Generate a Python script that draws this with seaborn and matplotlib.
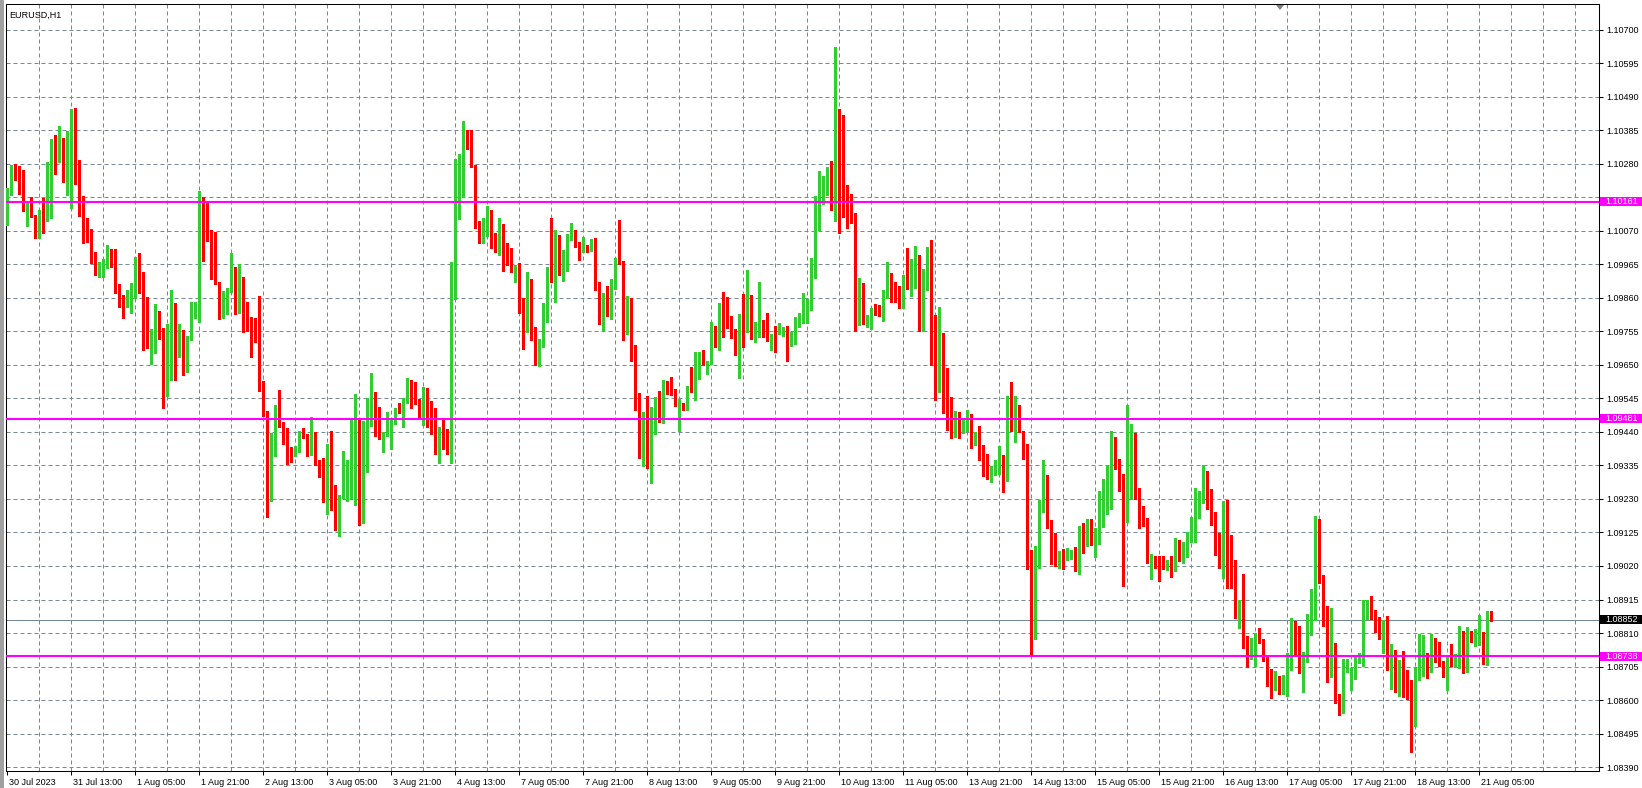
import numpy as np
import pandas as pd
import matplotlib
matplotlib.use("Agg")
import matplotlib.pyplot as plt
import matplotlib.transforms as mtransforms
from matplotlib.patches import Rectangle, Polygon
import seaborn as sns

symbol_title = "EURUSD,H1"

# hourly OHLC, 30 Jul 21:00 .. 21 Aug 08:00
opens = [
    1.10117, 1.10194, 1.10265, 1.10235, 1.10216, 1.10135, 1.10150, 1.10119, 1.10050, 1.10132,
    1.10100, 1.10189, 1.10338, 1.10318, 1.10360, 1.10263, 1.10274, 1.10372, 1.10248, 1.10180,
    1.10066, 1.10044, 1.09981, 1.09945, 1.09940, 1.09968, 1.10007, 1.09963, 1.09880, 1.09856,
    1.09845, 1.09848, 1.09895, 1.09982, 1.09941, 1.09791, 1.09742, 1.09744, 1.09816, 1.09750,
    1.09556, 1.09723, 1.09778, 1.09697, 1.09716, 1.09628, 1.09731, 1.09819, 1.09806, 1.10176,
    1.10085, 1.10072, 1.09957, 1.09910, 1.09835, 1.09863, 1.09889, 1.09938, 1.09892, 1.09897,
    1.09838, 1.09801, 1.09785, 1.09782, 1.09592, 1.09496, 1.09266, 1.09375, 1.09498, 1.09456,
    1.09425, 1.09390, 1.09369, 1.09377, 1.09441, 1.09431, 1.09391, 1.09434, 1.09347, 1.09343,
    1.09227, 1.09390, 1.09213, 1.09184, 1.09240, 1.09310, 1.09335, 1.09339, 1.09374, 1.09175,
    1.09313, 1.09460, 1.09545, 1.09463, 1.09426, 1.09430, 1.09412, 1.09477, 1.09513, 1.09500,
    1.09542, 1.09560, 1.09550, 1.09534, 1.09493, 1.09514, 1.09471, 1.09468, 1.09391, 1.09440,
    1.09429, 1.09370, 1.09887, 1.10111, 1.10224, 1.10339, 1.10334, 1.10276, 1.10085, 1.10068,
    1.10093, 1.10107, 1.10048, 1.10015, 1.10088, 1.10002, 1.09997, 1.09946, 1.09960, 1.09822,
    1.09791, 1.09919, 1.09741, 1.09651, 1.09721, 1.09829, 1.09950, 1.09916, 1.10007, 1.09979,
    1.09996, 1.10049, 1.10063, 1.10036, 1.10010, 1.10026, 1.10008, 1.10019, 1.09910, 1.09781,
    1.09878, 1.09806, 1.09913, 1.09985, 1.09969, 1.09779, 1.09847, 1.09700, 1.09531, 1.09401,
    1.09424, 1.09372, 1.09448, 1.09494, 1.09471, 1.09587, 1.09589, 1.09564, 1.09492, 1.09523,
    1.09508, 1.09583, 1.09564, 1.09625, 1.09674, 1.09653, 1.09655, 1.09755, 1.09715, 1.09833,
    1.09828, 1.09776, 1.09748, 1.09686, 1.09805, 1.09793, 1.09818, 1.09731, 1.09771, 1.09786,
    1.09743, 1.09724, 1.09769, 1.09755, 1.09760, 1.09766, 1.09709, 1.09720, 1.09780, 1.09782,
    1.09785, 1.09842, 1.09931, 1.10072, 1.10174, 1.10197, 1.10270, 1.10158, 1.10408, 1.10390,
    1.10182, 1.10141, 1.10127, 1.09790, 1.09901, 1.09782, 1.09780, 1.09831, 1.09819, 1.09805,
    1.09871, 1.09938, 1.09878, 1.09866, 1.09843, 1.09921, 1.09901, 1.09913, 1.09987, 1.09762,
    1.09919, 1.09966, 1.09672, 1.09614, 1.09716, 1.09555, 1.09458, 1.09439, 1.09499, 1.09456,
    1.09442, 1.09471, 1.09411, 1.09424, 1.09364, 1.09350, 1.09296, 1.09308, 1.09346, 1.09367,
    1.09308, 1.09511, 1.09452, 1.09489, 1.09442, 1.09381, 1.09047, 1.08805, 1.09022, 1.09195,
    1.09277, 1.09164, 1.09038, 1.09019, 1.09054, 1.09042, 1.09062, 1.09069, 1.09065, 1.09092,
    1.09086, 1.09138, 1.09091, 1.09118, 1.09221, 1.09222, 1.09268, 1.09397, 1.09339, 1.09287,
    1.09209, 1.09392, 1.09402, 1.09261, 1.09171, 1.09170, 1.09033, 1.09047, 1.09029, 1.09026,
    1.09019, 1.09030, 1.09021, 1.09050, 1.09035, 1.09054, 1.09122, 1.09148, 1.09181, 1.09221,
    1.09273, 1.09258, 1.09173, 1.09122, 1.09011, 1.09079, 1.09058, 1.09023, 1.08858, 1.08899,
    1.08800, 1.08732, 1.08740, 1.08823, 1.08785, 1.08738, 1.08687, 1.08646, 1.08651, 1.08628,
    1.08677, 1.08724, 1.08826, 1.08797, 1.08717, 1.08727, 1.08826, 1.08936, 1.09054, 1.08986,
    1.08886, 1.08729, 1.08772, 1.08602, 1.08560, 1.08699, 1.08633, 1.08666, 1.08725, 1.08732,
    1.08885, 1.08902, 1.08875, 1.08852, 1.08812, 1.08834, 1.08706, 1.08722, 1.08662, 1.08675,
    1.08624, 1.08621, 1.08544, 1.08693, 1.08709, 1.08732, 1.08719, 1.08784, 1.08772, 1.08719,
    1.08664, 1.08741, 1.08732, 1.08734, 1.08788, 1.08724, 1.08808, 1.08798, 1.08803, 1.08805,
    1.08764, 1.08878,
]
highs = [
    1.10205, 1.10276, 1.10279, 1.10273, 1.10259, 1.10158, 1.10176, 1.10119, 1.10134, 1.10171,
    1.10284, 1.10357, 1.10370, 1.10398, 1.10360, 1.10382, 1.10451, 1.10454, 1.10291, 1.10180,
    1.10110, 1.10074, 1.10003, 1.09973, 1.09981, 1.10025, 1.10012, 1.10013, 1.09903, 1.09869,
    1.09884, 1.09907, 1.09989, 1.10000, 1.09941, 1.09862, 1.09762, 1.09841, 1.09820, 1.09765,
    1.09777, 1.09885, 1.09845, 1.09778, 1.09759, 1.09740, 1.09848, 1.09848, 1.10193, 1.10176,
    1.10161, 1.10073, 1.10067, 1.09910, 1.09881, 1.09891, 1.10000, 1.09957, 1.09965, 1.09925,
    1.09848, 1.09801, 1.09797, 1.09866, 1.09600, 1.09504, 1.09436, 1.09525, 1.09572, 1.09472,
    1.09452, 1.09394, 1.09396, 1.09444, 1.09452, 1.09434, 1.09488, 1.09441, 1.09352, 1.09358,
    1.09402, 1.09442, 1.09274, 1.09243, 1.09381, 1.09352, 1.09483, 1.09559, 1.09483, 1.09474,
    1.09545, 1.09625, 1.09566, 1.09517, 1.09441, 1.09501, 1.09480, 1.09516, 1.09529, 1.09546,
    1.09610, 1.09603, 1.09595, 1.09542, 1.09579, 1.09576, 1.09537, 1.09516, 1.09454, 1.09480,
    1.09450, 1.09973, 1.10294, 1.10310, 1.10414, 1.10386, 1.10386, 1.10276, 1.10101, 1.10110,
    1.10146, 1.10135, 1.10064, 1.10110, 1.10092, 1.10033, 1.10017, 1.09962, 1.09970, 1.09858,
    1.09941, 1.09919, 1.09769, 1.09730, 1.09843, 1.09957, 1.10110, 1.10073, 1.10057, 1.10010,
    1.10061, 1.10094, 1.10072, 1.10036, 1.10051, 1.10026, 1.10045, 1.10047, 1.09910, 1.09875,
    1.09897, 1.09918, 1.09986, 1.10104, 1.09975, 1.09866, 1.09859, 1.09712, 1.09562, 1.09503,
    1.09553, 1.09518, 1.09550, 1.09567, 1.09602, 1.09598, 1.09611, 1.09574, 1.09543, 1.09531,
    1.09585, 1.09642, 1.09689, 1.09689, 1.09698, 1.09663, 1.09785, 1.09771, 1.09844, 1.09877,
    1.09862, 1.09802, 1.09762, 1.09809, 1.09872, 1.09946, 1.09870, 1.09783, 1.09909, 1.09790,
    1.09813, 1.09745, 1.09771, 1.09781, 1.09768, 1.09771, 1.09753, 1.09800, 1.09813, 1.09876,
    1.09857, 1.09983, 1.10179, 1.10257, 1.10242, 1.10270, 1.10289, 1.10646, 1.10452, 1.10433,
    1.10213, 1.10184, 1.10127, 1.09922, 1.09905, 1.09807, 1.09829, 1.09839, 1.09836, 1.09884,
    1.09972, 1.09938, 1.09910, 1.09897, 1.09930, 1.10016, 1.09980, 1.10022, 1.09995, 1.09950,
    1.10018, 1.10040, 1.09805, 1.09831, 1.09750, 1.09639, 1.09548, 1.09505, 1.09503, 1.09481,
    1.09508, 1.09497, 1.09439, 1.09458, 1.09398, 1.09372, 1.09332, 1.09353, 1.09395, 1.09367,
    1.09552, 1.09596, 1.09552, 1.09523, 1.09444, 1.09402, 1.09071, 1.09084, 1.09228, 1.09351,
    1.09304, 1.09164, 1.09122, 1.09068, 1.09073, 1.09075, 1.09070, 1.09081, 1.09146, 1.09156,
    1.09167, 1.09167, 1.09138, 1.09256, 1.09294, 1.09335, 1.09443, 1.09423, 1.09355, 1.09308,
    1.09524, 1.09464, 1.09436, 1.09263, 1.09207, 1.09170, 1.09057, 1.09050, 1.09050, 1.09050,
    1.09040, 1.09052, 1.09109, 1.09102, 1.09095, 1.09126, 1.09173, 1.09263, 1.09256, 1.09336,
    1.09317, 1.09262, 1.09189, 1.09122, 1.09223, 1.09228, 1.09117, 1.09038, 1.08912, 1.08996,
    1.08800, 1.08793, 1.08811, 1.08826, 1.08790, 1.08738, 1.08698, 1.08691, 1.08677, 1.08680,
    1.08746, 1.08858, 1.08847, 1.08832, 1.08751, 1.08870, 1.08948, 1.09176, 1.09168, 1.08991,
    1.08894, 1.08889, 1.08778, 1.08620, 1.08729, 1.08730, 1.08699, 1.08740, 1.08746, 1.08913,
    1.08913, 1.08927, 1.08881, 1.08859, 1.08850, 1.08862, 1.08776, 1.08758, 1.08725, 1.08753,
    1.08695, 1.08664, 1.08702, 1.08807, 1.08803, 1.08747, 1.08807, 1.08793, 1.08781, 1.08722,
    1.08737, 1.08777, 1.08745, 1.08833, 1.08816, 1.08828, 1.08818, 1.08824, 1.08866, 1.08814,
    1.08878, 1.08878,
]
lows = [
    1.10088, 1.10182, 1.10228, 1.10185, 1.10133, 1.10085, 1.10113, 1.10046, 1.10048, 1.10064,
    1.10100, 1.10109, 1.10248, 1.10286, 1.10224, 1.10182, 1.10140, 1.10216, 1.10117, 1.10033,
    1.10036, 1.09970, 1.09931, 1.09926, 1.09926, 1.09954, 1.09956, 1.09875, 1.09832, 1.09798,
    1.09831, 1.09813, 1.09859, 1.09876, 1.09695, 1.09704, 1.09653, 1.09688, 1.09731, 1.09516,
    1.09553, 1.09604, 1.09601, 1.09675, 1.09618, 1.09626, 1.09728, 1.09798, 1.09785, 1.09975,
    1.10038, 1.09919, 1.09903, 1.09795, 1.09798, 1.09808, 1.09879, 1.09808, 1.09812, 1.09754,
    1.09757, 1.09676, 1.09721, 1.09569, 1.09490, 1.09175, 1.09225, 1.09363, 1.09454, 1.09402,
    1.09340, 1.09347, 1.09366, 1.09377, 1.09420, 1.09363, 1.09368, 1.09337, 1.09300, 1.09219,
    1.09182, 1.09196, 1.09134, 1.09115, 1.09232, 1.09222, 1.09232, 1.09211, 1.09149, 1.09156,
    1.09313, 1.09457, 1.09427, 1.09418, 1.09378, 1.09427, 1.09386, 1.09464, 1.09498, 1.09454,
    1.09530, 1.09516, 1.09527, 1.09485, 1.09461, 1.09454, 1.09433, 1.09370, 1.09341, 1.09386,
    1.09370, 1.09341, 1.09856, 1.10106, 1.10176, 1.10325, 1.10268, 1.10077, 1.10030, 1.10030,
    1.10054, 1.10017, 1.10002, 1.09995, 1.09943, 1.09963, 1.09942, 1.09908, 1.09811, 1.09699,
    1.09754, 1.09727, 1.09650, 1.09645, 1.09707, 1.09785, 1.09908, 1.09848, 1.09932, 1.09911,
    1.09944, 1.10041, 1.10020, 1.09979, 1.10004, 1.10002, 1.10008, 1.09885, 1.09779, 1.09756,
    1.09803, 1.09793, 1.09889, 1.09967, 1.09729, 1.09746, 1.09662, 1.09509, 1.09359, 1.09333,
    1.09326, 1.09281, 1.09433, 1.09470, 1.09468, 1.09559, 1.09557, 1.09520, 1.09442, 1.09508,
    1.09508, 1.09564, 1.09539, 1.09606, 1.09650, 1.09621, 1.09653, 1.09705, 1.09696, 1.09737,
    1.09766, 1.09733, 1.09682, 1.09609, 1.09705, 1.09753, 1.09731, 1.09721, 1.09737, 1.09736,
    1.09724, 1.09698, 1.09689, 1.09748, 1.09740, 1.09663, 1.09709, 1.09714, 1.09770, 1.09780,
    1.09780, 1.09821, 1.09921, 1.10072, 1.10153, 1.10181, 1.10135, 1.10101, 1.10064, 1.10113,
    1.10077, 1.10093, 1.09755, 1.09774, 1.09777, 1.09767, 1.09761, 1.09805, 1.09803, 1.09787,
    1.09860, 1.09848, 1.09848, 1.09828, 1.09829, 1.09889, 1.09866, 1.09892, 1.09755, 1.09755,
    1.09884, 1.09648, 1.09541, 1.09565, 1.09499, 1.09447, 1.09421, 1.09423, 1.09421, 1.09437,
    1.09442, 1.09390, 1.09398, 1.09353, 1.09301, 1.09291, 1.09282, 1.09306, 1.09309, 1.09252,
    1.09285, 1.09444, 1.09407, 1.09439, 1.09355, 1.09011, 1.08737, 1.08792, 1.09014, 1.09189,
    1.09139, 1.09026, 1.09019, 1.09015, 1.09010, 1.09039, 1.09042, 1.09005, 1.08995, 1.09062,
    1.09083, 1.09086, 1.09047, 1.09089, 1.09141, 1.09183, 1.09200, 1.09323, 1.09256, 1.08958,
    1.09158, 1.09229, 1.09229, 1.09140, 1.09144, 1.09028, 1.08979, 1.09015, 1.08974, 1.09010,
    1.09008, 1.08984, 1.09005, 1.09036, 1.09030, 1.09049, 1.09096, 1.09096, 1.09169, 1.09218,
    1.09199, 1.09148, 1.09054, 1.09014, 1.08981, 1.08952, 1.08952, 1.08856, 1.08826, 1.08764,
    1.08704, 1.08730, 1.08708, 1.08779, 1.08724, 1.08644, 1.08607, 1.08633, 1.08618, 1.08620,
    1.08614, 1.08693, 1.08737, 1.08685, 1.08626, 1.08720, 1.08803, 1.08852, 1.08967, 1.08833,
    1.08657, 1.08672, 1.08591, 1.08552, 1.08560, 1.08688, 1.08633, 1.08666, 1.08716, 1.08708,
    1.08854, 1.08855, 1.08813, 1.08791, 1.08746, 1.08695, 1.08635, 1.08626, 1.08614, 1.08610,
    1.08602, 1.08438, 1.08520, 1.08664, 1.08677, 1.08669, 1.08688, 1.08718, 1.08708, 1.08672,
    1.08633, 1.08706, 1.08703, 1.08699, 1.08685, 1.08688, 1.08782, 1.08769, 1.08774, 1.08713,
    1.08709, 1.08848,
]
closes = [
    1.10203, 1.10265, 1.10232, 1.10216, 1.10135, 1.10147, 1.10117, 1.10050, 1.10132, 1.10100,
    1.10190, 1.10344, 1.10318, 1.10363, 1.10260, 1.10276, 1.10370, 1.10245, 1.10178, 1.10064,
    1.10041, 1.09979, 1.09948, 1.09963, 1.09969, 1.10007, 1.09959, 1.09878, 1.09854, 1.09845,
    1.09851, 1.09900, 1.09982, 1.09939, 1.09789, 1.09739, 1.09747, 1.09816, 1.09748, 1.09556,
    1.09725, 1.09778, 1.09695, 1.09716, 1.09629, 1.09734, 1.09822, 1.09835, 1.10179, 1.10085,
    1.10069, 1.09955, 1.09906, 1.09835, 1.09866, 1.09889, 1.09938, 1.09895, 1.09895, 1.09836,
    1.09799, 1.09782, 1.09779, 1.09590, 1.09493, 1.09266, 1.09376, 1.09498, 1.09454, 1.09425,
    1.09388, 1.09377, 1.09379, 1.09441, 1.09429, 1.09391, 1.09434, 1.09344, 1.09340, 1.09224,
    1.09389, 1.09209, 1.09184, 1.09243, 1.09312, 1.09340, 1.09346, 1.09374, 1.09178, 1.09313,
    1.09463, 1.09545, 1.09463, 1.09426, 1.09437, 1.09485, 1.09474, 1.09513, 1.09500, 1.09546,
    1.09560, 1.09542, 1.09532, 1.09493, 1.09514, 1.09469, 1.09462, 1.09394, 1.09440, 1.09427,
    1.09370, 1.09892, 1.10113, 1.10229, 1.10343, 1.10330, 1.10273, 1.10083, 1.10068, 1.10088,
    1.10098, 1.10045, 1.10015, 1.10095, 1.10000, 1.09991, 1.09946, 1.09960, 1.09821, 1.09793,
    1.09922, 1.09738, 1.09653, 1.09721, 1.09831, 1.09947, 1.09916, 1.10010, 1.09979, 1.10000,
    1.10051, 1.10061, 1.10036, 1.10020, 1.10024, 1.10008, 1.10019, 1.09911, 1.09781, 1.09875,
    1.09805, 1.09913, 1.09982, 1.09967, 1.09779, 1.09843, 1.09697, 1.09529, 1.09403, 1.09424,
    1.09365, 1.09449, 1.09492, 1.09471, 1.09589, 1.09585, 1.09562, 1.09552, 1.09525, 1.09508,
    1.09583, 1.09564, 1.09627, 1.09674, 1.09653, 1.09658, 1.09758, 1.09715, 1.09833, 1.09828,
    1.09774, 1.09752, 1.09686, 1.09805, 1.09791, 1.09818, 1.09731, 1.09776, 1.09790, 1.09739,
    1.09724, 1.09726, 1.09749, 1.09760, 1.09762, 1.09705, 1.09722, 1.09782, 1.09785, 1.09785,
    1.09845, 1.09936, 1.10080, 1.10179, 1.10198, 1.10270, 1.10158, 1.10414, 1.10388, 1.10181,
    1.10141, 1.10125, 1.09790, 1.09901, 1.09782, 1.09797, 1.09822, 1.09819, 1.09806, 1.09873,
    1.09938, 1.09876, 1.09864, 1.09842, 1.09925, 1.09901, 1.09916, 1.09988, 1.09762, 1.09922,
    1.09966, 1.09672, 1.09614, 1.09711, 1.09550, 1.09455, 1.09439, 1.09499, 1.09455, 1.09461,
    1.09471, 1.09416, 1.09424, 1.09362, 1.09348, 1.09296, 1.09310, 1.09348, 1.09367, 1.09311,
    1.09511, 1.09452, 1.09486, 1.09442, 1.09381, 1.09045, 1.08805, 1.09022, 1.09198, 1.09277,
    1.09162, 1.09036, 1.09021, 1.09054, 1.09044, 1.09066, 1.09069, 1.09065, 1.09092, 1.09086,
    1.09136, 1.09086, 1.09107, 1.09226, 1.09226, 1.09269, 1.09397, 1.09337, 1.09282, 1.09209,
    1.09392, 1.09402, 1.09258, 1.09169, 1.09165, 1.09033, 1.09050, 1.09036, 1.09021, 1.09019,
    1.09030, 1.09021, 1.09050, 1.09036, 1.09058, 1.09126, 1.09150, 1.09182, 1.09226, 1.09273,
    1.09254, 1.09171, 1.09121, 1.09014, 1.09079, 1.09058, 1.09019, 1.08856, 1.08897, 1.08798,
    1.08732, 1.08785, 1.08808, 1.08782, 1.08732, 1.08683, 1.08644, 1.08649, 1.08633, 1.08678,
    1.08729, 1.08826, 1.08792, 1.08719, 1.08729, 1.08826, 1.08938, 1.09054, 1.08986, 1.08885,
    1.08725, 1.08772, 1.08599, 1.08560, 1.08708, 1.08718, 1.08667, 1.08727, 1.08734, 1.08886,
    1.08902, 1.08873, 1.08847, 1.08812, 1.08821, 1.08706, 1.08722, 1.08662, 1.08675, 1.08617,
    1.08617, 1.08544, 1.08700, 1.08712, 1.08732, 1.08719, 1.08784, 1.08771, 1.08713, 1.08713,
    1.08737, 1.08732, 1.08741, 1.08788, 1.08724, 1.08808, 1.08795, 1.08804, 1.08805, 1.08764,
    1.08878, 1.08852,
]

time_labels = ["30 Jul 2023", "31 Jul 13:00", "1 Aug 05:00", "1 Aug 21:00", "2 Aug 13:00",
               "3 Aug 05:00", "3 Aug 21:00", "4 Aug 13:00", "7 Aug 05:00", "7 Aug 21:00",
               "8 Aug 13:00", "9 Aug 05:00", "9 Aug 21:00", "10 Aug 13:00", "11 Aug 05:00",
               "13 Aug 21:00", "14 Aug 13:00", "15 Aug 05:00", "15 Aug 21:00", "16 Aug 13:00",
               "17 Aug 05:00", "17 Aug 21:00", "18 Aug 13:00", "21 Aug 05:00"]
price_ticks = [1.10700, 1.10595, 1.10490, 1.10385, 1.10280, 1.10175, 1.10070, 1.09965,
               1.09860, 1.09755, 1.09650, 1.09545, 1.09440, 1.09335, 1.09230, 1.09125,
               1.09020, 1.08915, 1.08810, 1.08705, 1.08600, 1.08495, 1.08390]
level_lines = [1.10161, 1.09481, 1.08738]
bid_price = 1.08852

bull = "#32CD32"
bear = "#FF0000"
grid_col = "#778899"
magenta = "#FF00FF"

sns.set_theme(style="white")
plt.rcParams['font.family'] = ['Liberation Sans', 'DejaVu Sans']

df = pd.DataFrame({"open": opens, "high": highs, "low": lows, "close": closes})
df["bar"] = np.arange(len(df))
df["up"] = df["close"] >= df["open"]
df["color"] = np.where(df["up"], bull, bear)

W, H = 1642, 788
fig = plt.figure(figsize=(W / 100, H / 100), dpi=100)
fig.patch.set_facecolor("white")
ax = fig.add_axes([6 / W, 1 - 771 / H, (1599 - 6) / W, (771 - 4) / H])
ax.set_facecolor("white")

# candles
ax.vlines(df["bar"], df["low"], df["high"], colors=df["color"], lw=0.75,
          antialiased=False, zorder=3)
body = (df["close"] - df["open"]).abs()
min_h = 2.5e-5
bottom = np.minimum(df["open"], df["close"]) - np.clip(min_h - body, 0, None) / 2
ax.bar(df["bar"], np.maximum(body, min_h), bottom=bottom, width=0.75,
       color=df["color"], linewidth=0, antialiased=False, zorder=4)

ax.set_xlim(-0.33, 397.9)
ax.set_ylim(1.08378, 1.10780)

# grid
for x in range(8, 400, 8):
    ax.axvline(x, color=grid_col, lw=0.72, ls=(0, (4, 3)), zorder=1)
for p in price_ticks:
    ax.axhline(p, color=grid_col, lw=0.72, ls=(0, (4, 3)), zorder=1)

# levels
for p in level_lines:
    ax.axhline(p, color=magenta, lw=1.5, zorder=5)
ax.axhline(bid_price, color=grid_col, lw=0.75, zorder=2)

# axes / ticks
for s in ax.spines.values():
    s.set_color("black")
    s.set_linewidth(0.75)
ax.set_xticks(np.arange(len(time_labels)) * 16)
ax.set_xticklabels(time_labels, ha="left")
ax.yaxis.tick_right()
ax.set_yticks(price_ticks)
# the scale label that sits under a level box is hidden in the terminal
hidden = [any(abs(p - q) < 0.00018 for q in level_lines + [bid_price]) and
          not any(abs(p - q) > 0.0003 for q in []) and abs(p - 1.10175) < 1e-6
          for p in price_ticks]
ax.set_yticklabels(["" if h else f"{p:.5f}" for p, h in zip(price_ticks, hidden)])
ax.tick_params(axis="both", which="major", direction="out", length=3, width=0.75,
               color="black", labelsize=6.5, labelcolor="black", pad=2,
               bottom=True, right=True, left=False, top=False)
shift = mtransforms.ScaledTranslation(2 / 100, 0, fig.dpi_scale_trans)
for lab in ax.get_xticklabels():
    lab.set_transform(lab.get_transform() + shift)

# price label boxes on the scale
trans = mtransforms.blended_transform_factory(fig.transFigure, ax.transData)
box_h = 9 / 0.3193 * 1e-5
for p, fc in [(p, magenta) for p in level_lines] + [(bid_price, "black")]:
    ax.add_patch(Rectangle((1600 / W, p - box_h / 2), 42 / W, box_h, transform=trans,
                           facecolor=fc, edgecolor="none", clip_on=False, zorder=10))
    ax.text(1605 / W, p, f"{p:.5f}", transform=trans, color="white", fontsize=6.5,
            va="center", ha="left", clip_on=False, zorder=11)

# symbol title and chart shift marker
fig.text(9 / W, 1 - 15 / H, symbol_title, fontsize=6.5, color="black", va="center")
fig.patches.append(Polygon([[1276 / W, 1 - 5 / H], [1284 / W, 1 - 5 / H], [1280 / W, 1 - 10 / H]],
                           closed=True, transform=fig.transFigure, facecolor="#808080",
                           edgecolor="none"))
fig.patches.append(Rectangle((0, 0), 4 / W, 1, transform=fig.transFigure,
                             facecolor="#a0a0a0", edgecolor="none"))

fig.savefig("out.png", dpi=100)
